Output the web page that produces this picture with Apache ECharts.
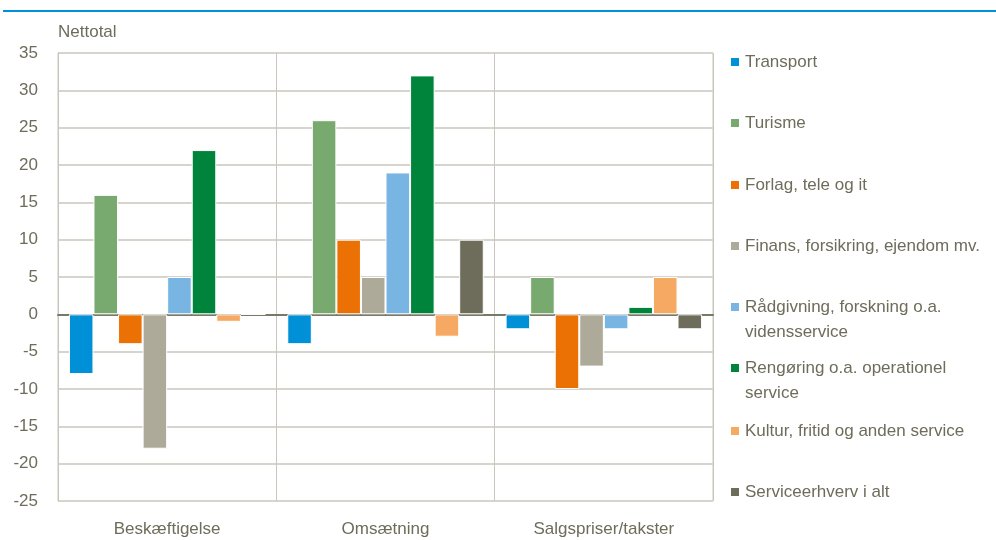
<!DOCTYPE html>
<html>
<head>
<meta charset="utf-8">
<script src="https://cdn.jsdelivr.net/npm/echarts@6/dist/echarts.min.js"></script>
<style>
  html, body { margin: 0; padding: 0; background: #fff; }
  #chart { width: 996px; height: 540px; }
</style>
</head>
<body>
<div id="chart"></div>
<script>
const categories = ['Beskæftigelse', 'Omsætning', 'Salgspriser/takster']
const seriesNames = [
  'Transport',
  'Turisme',
  'Forlag, tele og it',
  'Finans, forsikring, ejendom mv.',
  'Rådgivning, forskning o.a.\nvidensservice',
  'Rengøring o.a. operationel\nservice',
  'Kultur, fritid og anden service',
  'Serviceerhverv i alt',
]
const transport = [-8, -4, -2]
const turisme = [16, 26, 5]
const forlag = [-4, 10, -10]
const finans = [-18, 5, -7]
const raadgivning = [5, 19, -2]
const rengoering = [22, 32, 1]
const kultur = [-1, -3, 5]
const serviceIAlt = [0, 10, -2]
const yTicks = { min: -25, max: 35, interval: 5 }

const seriesValues = [transport, turisme, forlag, finans, raadgivning, rengoering, kultur, serviceIAlt]
const colors = ['#0090d8', '#78aa6f', '#ec7105', '#adaa9a', '#78b5e2', '#00843c', '#f5a963', '#6e6c5a']
const textColor = '#6e6c5a'
const font = 'Liberation Sans'
const lineH = 25

// legend rows placed like the Excel layout; two-line entries keep the icon on the first line
const legendTops = [49.5, 110.5, 172.5, 233.5, 294.5, 355.5, 418.5, 479.5]
// tall icon box with the square at its top, so the text's first line sits beside the square
const tallIcon = 'path://M0,0h10v10h-10z M0,35h10v0.01h-10z'

const chart = echarts.init(document.getElementById('chart'), null, { renderer: 'canvas' })

const series = seriesNames.map((name, i) => ({
  name,
  type: 'bar',
  data: seriesValues[i],
  barGap: '0%',
  barCategoryGap: '10%',
  itemStyle: { color: colors[i], borderColor: '#fff', borderWidth: 1 },
  emphasis: { disabled: true },
}))

const legend = seriesNames.map((name, i) => {
  const twoLines = name.includes('\n')
  return {
    data: [name],
    orient: 'vertical',
    left: 729,
    top: legendTops[i],
    padding: 0,
    itemWidth: 10,
    itemHeight: twoLines ? 35 : 10,
    icon: twoLines ? tallIcon : 'rect',
    itemGap: 0,
    selectedMode: false,
    textStyle: { color: textColor, fontFamily: font, fontSize: 17, lineHeight: lineH },
  }
})

chart.setOption({
  animation: false,
  backgroundColor: '#fff',
  color: colors,
  legend,
  graphic: [{
    type: 'line',
    shape: { x1: 3, y1: 11, x2: 996, y2: 11 },
    style: { stroke: '#0090d8', lineWidth: 2 },
  }],
  grid: {
    left: 58, right: 283, top: 53, bottom: 39,
    show: true, borderColor: '#c9c7bd', borderWidth: 1,
  },
  xAxis: {
    type: 'category',
    data: categories,
    axisLine: { show: true, onZero: true, lineStyle: { color: '#7a7866', width: 2 } },
    axisTick: { show: false },
    splitLine: { show: true, lineStyle: { color: '#c9c7bd', width: 1 } },
    axisLabel: { color: textColor, fontFamily: font, fontSize: 17, margin: 20 },
  },
  yAxis: {
    type: 'value',
    min: yTicks.min,
    max: yTicks.max,
    interval: yTicks.interval,
    name: 'Nettotal',
    nameLocation: 'end',
    nameGap: 12,
    nameTextStyle: { color: textColor, fontFamily: font, fontSize: 17, align: 'left' },
    axisLine: { show: true, lineStyle: { color: '#c9c7bd' } },
    axisTick: { show: false },
    splitLine: { lineStyle: { color: '#d6d4cb', width: 2 } },
    axisLabel: { color: textColor, fontFamily: font, fontSize: 17, margin: 20 },
  },
  series,
})
</script>
</body>
</html>
